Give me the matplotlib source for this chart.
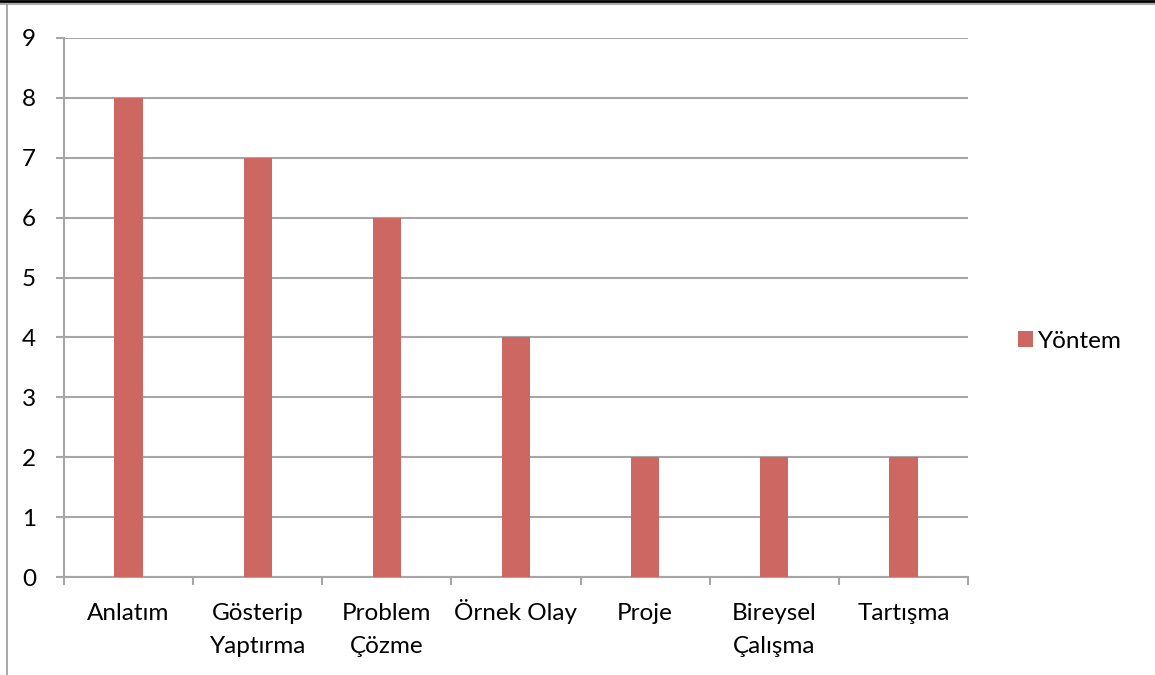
import matplotlib.pyplot as plt
import matplotlib.transforms as mtransforms
from matplotlib.lines import Line2D
from matplotlib.ticker import FixedLocator

plt.rcParams['font.family'] = ['Lato', 'DejaVu Sans']

categories = ['Anlatım', 'Gösterip\nYaptırma', 'Problem\nÇözme', 'Örnek Olay',
              'Proje', 'Bireysel\nÇalışma', 'Tartışma']
values = [8, 7, 6, 4, 2, 2, 2]
series_name = 'Yöntem'

bar_color = '#CD6761'
grid_color = '#A6A6A6'
fs = 17.5

fig = plt.figure(figsize=(11.55, 6.75), dpi=100)
ax = fig.add_axes([64 / 1155, 1 - 577 / 675, (968 - 64) / 1155, (577 - 38) / 675])

x = list(range(len(categories)))
ax.bar(x, values, width=0.22, color=bar_color, label=series_name, zorder=3)

ax.set_xlim(-0.5, len(categories) - 0.5)
ax.set_ylim(0, 9)
ax.set_yticks(range(0, 10))
ax.yaxis.grid(True, color=grid_color, linewidth=1.5, zorder=0)

ax.set_xticks(x)
ax.set_xticklabels([])
ax.xaxis.set_minor_locator(FixedLocator([i - 0.5 for i in range(len(categories) + 1)]))
ax.tick_params(axis='x', which='major', length=0)
ax.tick_params(axis='x', which='minor', length=6, width=1.5, color=grid_color, direction='out')
ax.tick_params(axis='y', length=6, width=1.5, color=grid_color, labelsize=fs, pad=14)

# category labels: each line on its own baseline, like the original
base = mtransforms.blended_transform_factory(ax.transData, ax.transAxes)
for xi, lab in zip(x, categories):
    for i, line in enumerate(lab.split('\n')):
        off = mtransforms.ScaledTranslation(0, -(43 + i * 33) / 100, fig.dpi_scale_trans)
        ax.text(xi, 0, line, transform=base + off, ha='center', va='baseline',
                fontsize=fs, clip_on=False)

for s in ['top', 'right']:
    ax.spines[s].set_visible(False)
for s in ['left', 'bottom']:
    ax.spines[s].set_color(grid_color)
    ax.spines[s].set_linewidth(1.5)

leg = fig.legend(loc='center left', bbox_to_anchor=(1018 / 1155, 1 - 341 / 675),
                 frameon=False, fontsize=fs, handlelength=0.62, handleheight=0.62,
                 handletextpad=0.2, borderpad=0, borderaxespad=0)

# page borders
fig.add_artist(Line2D([0, 1], [1 - 1 / 675, 1 - 1 / 675], color='black', linewidth=2))
fig.add_artist(Line2D([0, 1], [1 - 4 / 675, 1 - 4 / 675], color='#999999', linewidth=1.2))
fig.add_artist(Line2D([7 / 1155, 7 / 1155], [0, 1 - 5 / 675], color='#999999', linewidth=1.2))

fig.savefig('out.png', dpi=100)
